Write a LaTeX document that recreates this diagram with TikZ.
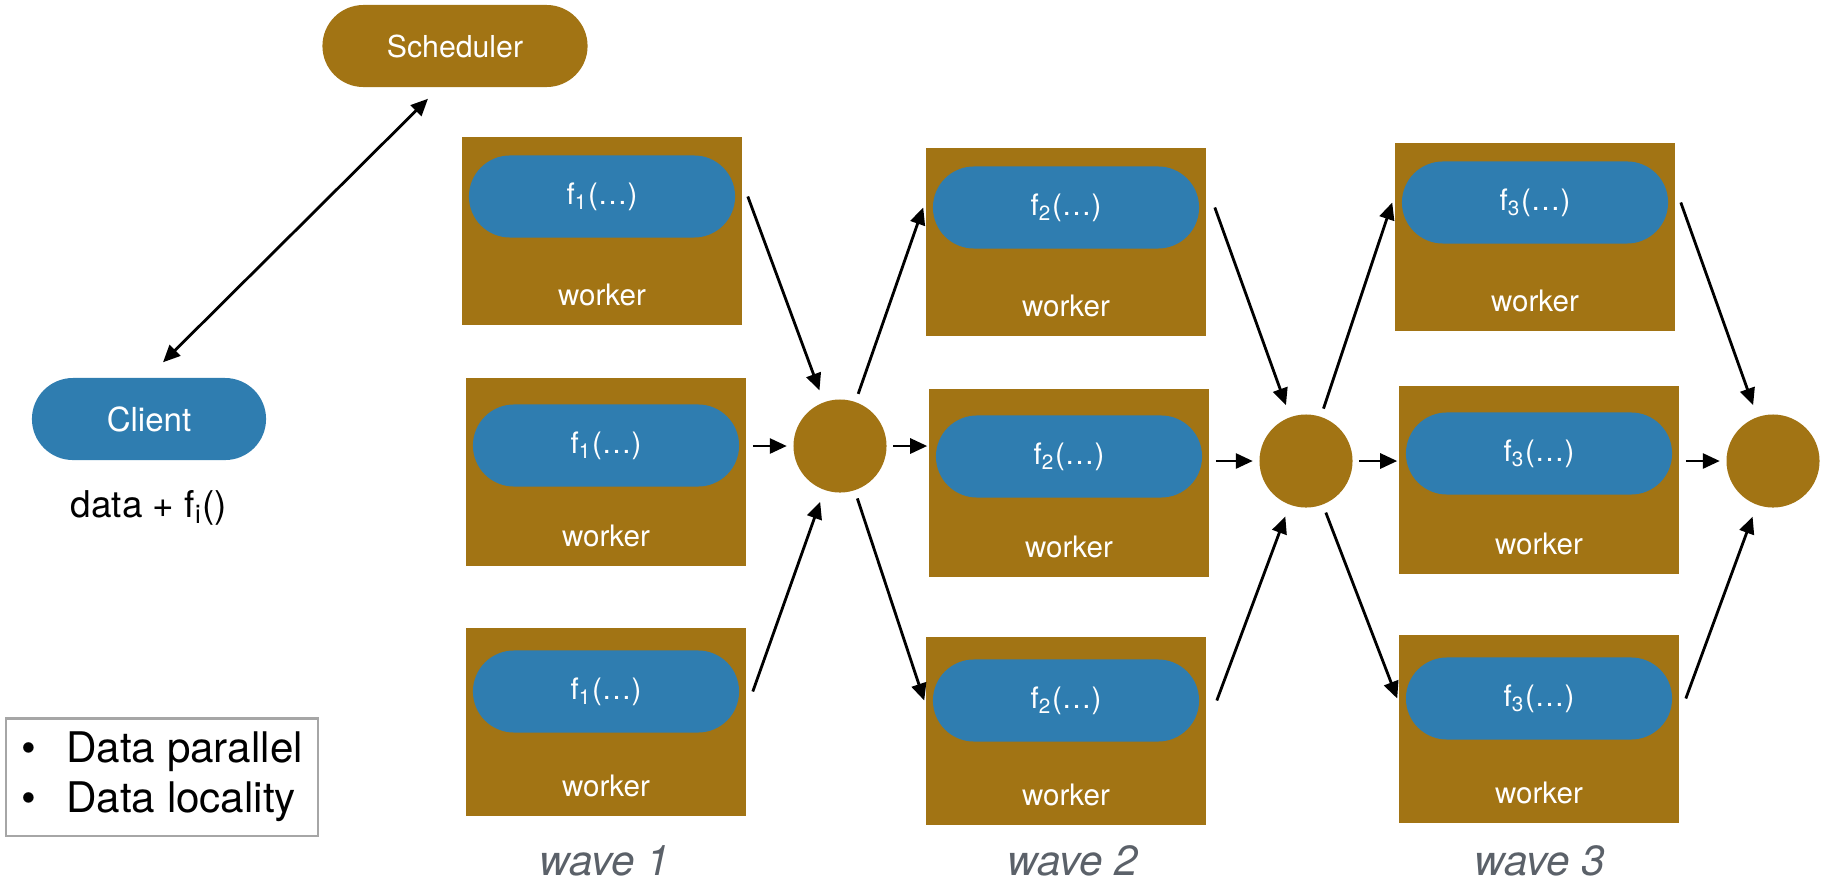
\documentclass[tikz,border=0pt]{standalone}
\usepackage{fontspec}
\setmainfont{TeX Gyre Heros}
\usetikzlibrary{positioning,arrows.meta,shapes.misc}
\definecolor{ochre}{HTML}{A27414}
\definecolor{steel}{HTML}{2F7DB0}
\definecolor{wavegray}{HTML}{5B6169}

\begin{document}
\begin{tikzpicture}[
  x=0.01cm, y=-0.01cm,
  pill/.style={rounded rectangle, fill=#1, text=white, minimum height=0.82cm, inner sep=0pt},
  role/.style={pill=#1, font=\fontsize{8.6}{10}\selectfont},
  wbox/.style={fill=ochre, minimum width=2.79cm, minimum height=1.87cm, inner sep=0pt},
  fn/.style={pill=steel, minimum width=2.66cm, font=\fontsize{8.4}{10}\selectfont},
  wlbl/.style={text=white, inner sep=0pt, font=\fontsize{8.4}{10}\selectfont},
  hub/.style={circle, fill=ochre, minimum size=0.93cm, inner sep=0pt},
  wave/.style={text=wavegray, inner sep=0pt, font=\fontsize{12}{14}\selectfont\itshape},
  note/.style={inner sep=0pt, font=\fontsize{10.5}{12}\selectfont},
  legend/.style={draw=black!35, line width=0.6pt, minimum width=3.12cm, minimum height=1.17cm,
                 inner sep=0pt, align=left, font=\fontsize{12}{14.3}\selectfont},
  arr/.style={draw=black, line width=0.8pt, -{Triangle[length=0.17cm,width=0.15cm]}},
  into/.style={arr, shorten >=0.12cm},
  outof/.style={arr, shorten <=0.08cm},
]
\useasboundingbox (0,0) rectangle (1822,884);

% ---------------- scheduler + client ----------------
\node[role=ochre, minimum width=2.65cm] (sched)  at (455,46)  {Scheduler};
\node[role=steel, minimum width=2.34cm, font=\fontsize{9.4}{11}\selectfont] (client) at (149,419) {Client};
\node[note, below=0.29cm of client] (payload) {data + f\textsubscript{i}()};

\draw[arr, {Triangle[length=0.17cm,width=0.15cm]}-{Triangle[length=0.17cm,width=0.15cm]}]
  ([xshift=0.14cm,yshift=0.15cm]client.north) -- ([xshift=-0.27cm,yshift=-0.11cm]sched.south);

% ---------------- wave 1 ----------------
\node[wbox] (w11) at (602,231) {};
\node[wbox] (w12) at (606,472) {};
\node[wbox] (w13) at (606,722) {};
\node[fn, below=0.18cm of w11.north] (f11) {f\textsubscript{1}(\dots)};
\node[fn, below=0.26cm of w12.north] (f12) {f\textsubscript{1}(\dots)};
\node[fn, below=0.22cm of w13.north] (f13) {f\textsubscript{1}(\dots)};
\node[wlbl, above=0.19cm of w11.south] {worker};
\node[wlbl, above=0.19cm of w12.south] {worker};
\node[wlbl, above=0.19cm of w13.south] {worker};

% ---------------- wave 2 ----------------
\node[wbox] (w21) at (1066,242) {};
\node[wbox] (w22) at (1069,483) {};
\node[wbox] (w23) at (1066,731) {};
\node[fn, below=0.18cm of w21.north] (f21) {f\textsubscript{2}(\dots)};
\node[fn, below=0.26cm of w22.north] (f22) {f\textsubscript{2}(\dots)};
\node[fn, below=0.22cm of w23.north] (f23) {f\textsubscript{2}(\dots)};
\node[wlbl, above=0.19cm of w21.south] {worker};
\node[wlbl, above=0.19cm of w22.south] {worker};
\node[wlbl, above=0.19cm of w23.south] {worker};

% ---------------- wave 3 ----------------
\node[wbox] (w31) at (1535,237) {};
\node[wbox] (w32) at (1539,480) {};
\node[wbox] (w33) at (1539,729) {};
\node[fn, below=0.18cm of w31.north] (f31) {f\textsubscript{3}(\dots)};
\node[fn, below=0.26cm of w32.north] (f32) {f\textsubscript{3}(\dots)};
\node[fn, below=0.22cm of w33.north] (f33) {f\textsubscript{3}(\dots)};
\node[wlbl, above=0.19cm of w31.south] {worker};
\node[wlbl, above=0.19cm of w32.south] {worker};
\node[wlbl, above=0.19cm of w33.south] {worker};

% ---------------- hubs between waves ----------------
\node[hub] (h1) at (840,446) {};
\node[hub] (h2) at (1306,461) {};
\node[hub] (h3) at (1773,461) {};

% ---------------- wave labels + legend ----------------
\node[wave] (wv1) at (605,861) {wave 1};
\node[wave] (wv2) at (1073,861) {wave 2};
\node[wave] (wv3) at (1540,861) {wave 3};
\node[legend] (lgd) at (162,777)
  {\makebox[0.45cm][l]{\textbullet}Data parallel\\\makebox[0.45cm][l]{\textbullet}Data locality};

% ---------------- wave 1 -> hub 1 -> wave 2 ----------------
\draw[into] ([xshift=0.12cm]f11.east) -- (h1);
\draw[into, shorten >=0.06cm] ([xshift=0.13cm]f12.east |- h1) -- (h1.west);
\draw[into] ([xshift=0.13cm]f13.east) -- (h1);
\draw[outof] (h1) -- ([xshift=-0.09cm]f21.west);
\draw[outof, shorten <=0.06cm] (h1.east) -- ([xshift=-0.08cm]f22.west |- h1);
\draw[outof] (h1) -- ([xshift=-0.08cm]f23.west);

% ---------------- wave 2 -> hub 2 -> wave 3 ----------------
\draw[into] ([xshift=0.15cm]f21.east) -- (h2);
\draw[into, shorten >=0.06cm] ([xshift=0.13cm]f22.east |- h2) -- (h2.west);
\draw[into] ([xshift=0.17cm]f23.east) -- (h2);
\draw[outof] (h2) -- ([xshift=-0.09cm]f31.west);
\draw[outof, shorten <=0.06cm] (h2.east) -- ([xshift=-0.08cm]f32.west |- h2);
\draw[outof] (h2) -- ([xshift=-0.08cm]f33.west);

% ---------------- wave 3 -> hub 3 ----------------
\draw[into] ([xshift=0.12cm]f31.east) -- (h3);
\draw[into, shorten >=0.06cm] ([xshift=0.13cm]f32.east |- h3) -- (h3.west);
\draw[into] ([xshift=0.13cm]f33.east) -- (h3);

\end{tikzpicture}
\end{document}
